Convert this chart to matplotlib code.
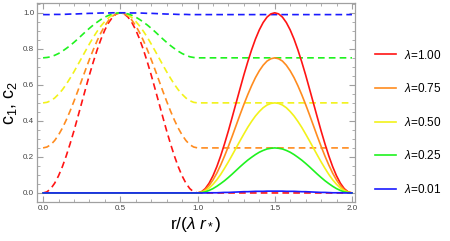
import matplotlib
matplotlib.use("Agg")
import matplotlib.pyplot as plt
from matplotlib.ticker import MultipleLocator

plt.rcParams["font.family"] = ["Liberation Sans", "DejaVu Sans"]
plt.rcParams["mathtext.fontset"] = "custom"
plt.rcParams["mathtext.rm"] = "Liberation Sans"
plt.rcParams["mathtext.it"] = "Liberation Sans:italic"

# sampled radii on one unit interval (step 0.025)
r_unit = [0.000, 0.025, 0.050, 0.075, 0.100, 0.125, 0.150, 0.175, 0.200, 0.225,
          0.250, 0.275, 0.300, 0.325, 0.350, 0.375, 0.400, 0.425, 0.450, 0.475,
          0.500, 0.525, 0.550, 0.575, 0.600, 0.625, 0.650, 0.675, 0.700, 0.725,
          0.750, 0.775, 0.800, 0.825, 0.850, 0.875, 0.900, 0.925, 0.950, 0.975, 1.000]

lambdas = ["1.00", "0.75", "0.50", "0.25", "0.01"]
colors = ["#ff1414", "#ff8c1f", "#f2f21a", "#1ff21f", "#1a1aff"]

# c1 (dashed) on 0 <= r <= 1, flat afterwards
c1_100 = [0.000, 0.006, 0.024, 0.054, 0.095, 0.146, 0.206, 0.273, 0.345, 0.422,
          0.500, 0.578, 0.655, 0.727, 0.794, 0.854, 0.905, 0.946, 0.976, 0.994,
          1.000, 0.994, 0.976, 0.946, 0.905, 0.854, 0.794, 0.727, 0.655, 0.578,
          0.500, 0.422, 0.345, 0.273, 0.206, 0.146, 0.095, 0.054, 0.024, 0.006, 0.000]
c1_075 = [0.250, 0.255, 0.268, 0.291, 0.322, 0.360, 0.405, 0.455, 0.509, 0.566,
          0.625, 0.684, 0.741, 0.795, 0.845, 0.890, 0.928, 0.959, 0.982, 0.995,
          1.000, 0.995, 0.982, 0.959, 0.928, 0.890, 0.845, 0.795, 0.741, 0.684,
          0.625, 0.566, 0.509, 0.455, 0.405, 0.360, 0.322, 0.291, 0.268, 0.255, 0.250]
c1_050 = [0.500, 0.503, 0.512, 0.527, 0.548, 0.573, 0.603, 0.637, 0.673, 0.711,
          0.750, 0.789, 0.827, 0.864, 0.897, 0.927, 0.952, 0.973, 0.988, 0.997,
          1.000, 0.997, 0.988, 0.973, 0.952, 0.927, 0.897, 0.864, 0.827, 0.789,
          0.750, 0.711, 0.673, 0.637, 0.603, 0.573, 0.548, 0.527, 0.512, 0.503, 0.500]
c1_025 = [0.750, 0.752, 0.756, 0.764, 0.774, 0.787, 0.802, 0.818, 0.836, 0.855,
          0.875, 0.895, 0.914, 0.932, 0.948, 0.963, 0.976, 0.986, 0.994, 0.998,
          1.000, 0.998, 0.994, 0.986, 0.976, 0.963, 0.948, 0.932, 0.914, 0.895,
          0.875, 0.855, 0.836, 0.818, 0.802, 0.787, 0.774, 0.764, 0.756, 0.752, 0.750]
c1_001 = [0.990, 0.990, 0.990, 0.991, 0.991, 0.991, 0.992, 0.993, 0.993, 0.994,
          0.995, 0.996, 0.997, 0.997, 0.998, 0.999, 0.999, 0.999, 1.000, 1.000,
          1.000, 1.000, 1.000, 0.999, 0.999, 0.999, 0.998, 0.997, 0.997, 0.996,
          0.995, 0.994, 0.993, 0.993, 0.992, 0.991, 0.991, 0.991, 0.990, 0.990, 0.990]

# c2 (solid) zero up to r = 1, bump on 1 <= r <= 2
c2_100 = [0.000, 0.006, 0.024, 0.054, 0.095, 0.146, 0.206, 0.273, 0.345, 0.422,
          0.500, 0.578, 0.655, 0.727, 0.794, 0.854, 0.905, 0.946, 0.976, 0.994,
          1.000, 0.994, 0.976, 0.946, 0.905, 0.854, 0.794, 0.727, 0.655, 0.578,
          0.500, 0.422, 0.345, 0.273, 0.206, 0.146, 0.095, 0.054, 0.024, 0.006, 0.000]
c2_075 = [0.000, 0.005, 0.018, 0.041, 0.072, 0.110, 0.155, 0.205, 0.259, 0.316,
          0.375, 0.434, 0.491, 0.545, 0.595, 0.640, 0.678, 0.709, 0.732, 0.745,
          0.750, 0.745, 0.732, 0.709, 0.678, 0.640, 0.595, 0.545, 0.491, 0.434,
          0.375, 0.316, 0.259, 0.205, 0.155, 0.110, 0.072, 0.041, 0.018, 0.005, 0.000]
c2_050 = [0.000, 0.003, 0.012, 0.027, 0.048, 0.073, 0.103, 0.137, 0.173, 0.211,
          0.250, 0.289, 0.327, 0.364, 0.397, 0.427, 0.452, 0.473, 0.488, 0.497,
          0.500, 0.497, 0.488, 0.473, 0.452, 0.427, 0.397, 0.364, 0.327, 0.289,
          0.250, 0.211, 0.173, 0.137, 0.103, 0.073, 0.048, 0.027, 0.012, 0.003, 0.000]
c2_025 = [0.000, 0.002, 0.006, 0.014, 0.024, 0.037, 0.052, 0.068, 0.086, 0.105,
          0.125, 0.145, 0.164, 0.182, 0.198, 0.213, 0.226, 0.236, 0.244, 0.248,
          0.250, 0.248, 0.244, 0.236, 0.226, 0.213, 0.198, 0.182, 0.164, 0.145,
          0.125, 0.105, 0.086, 0.068, 0.052, 0.037, 0.024, 0.014, 0.006, 0.002, 0.000]
c2_001 = [0.000, 0.000, 0.000, 0.001, 0.001, 0.001, 0.002, 0.003, 0.003, 0.004,
          0.005, 0.006, 0.007, 0.007, 0.008, 0.009, 0.009, 0.009, 0.010, 0.010,
          0.010, 0.010, 0.010, 0.009, 0.009, 0.009, 0.008, 0.007, 0.007, 0.006,
          0.005, 0.004, 0.003, 0.003, 0.002, 0.001, 0.001, 0.001, 0.000, 0.000, 0.000]

c1_all = [c1_100, c1_075, c1_050, c1_025, c1_001]
c2_all = [c2_100, c2_075, c2_050, c2_025, c2_001]

fig = plt.figure(figsize=(4.5, 2.41), dpi=100)
ax = fig.add_axes([0.082, 0.162, 0.707, 0.826])

frame = "#a0a0a0"
for c1, col in zip(c1_all, colors):
    xs = r_unit + [2.0]
    ys = c1 + [c1[-1]]
    ax.plot(xs, ys, color=col, lw=1.2, ls=(0, (4, 2.5)))

for c2, col, lam in zip(c2_all, colors, lambdas):
    xs = [0.0] + [1 + r for r in r_unit]
    ys = [0.0] + c2
    ax.plot(xs, ys, color=col, lw=1.2, label=r"$\lambda$=" + lam)

ax.set_xlim(-0.04, 2.02)
ax.set_ylim(-0.05, 1.055)
ax.xaxis.set_major_locator(MultipleLocator(0.5))
ax.xaxis.set_minor_locator(MultipleLocator(0.1))
ax.yaxis.set_major_locator(MultipleLocator(0.2))
ax.yaxis.set_minor_locator(MultipleLocator(0.05))
ax.xaxis.set_major_formatter(plt.FormatStrFormatter("%.1f"))
ax.yaxis.set_major_formatter(plt.FormatStrFormatter("%.1f"))
ax.tick_params(which="both", direction="in", top=True, right=True,
               color=frame, labelsize=5.8, labelcolor="#444444", pad=2)
ax.tick_params(which="major", length=4, width=0.8)
ax.tick_params(which="minor", length=2, width=0.6)
for s in ax.spines.values():
    s.set_color(frame)
    s.set_linewidth(0.9)

ax.set_xlabel(r"r/($\lambda\ r_*$)", fontsize=12.5, labelpad=2)
ax.set_ylabel(r"c$_1$, c$_2$", fontsize=13, labelpad=3)

ax.legend(loc="center left", bbox_to_anchor=(1.03, 0.40), frameon=False,
          fontsize=8.5, labelspacing=1.75, handlelength=1.8, handletextpad=0.6)

fig.savefig("out.png", dpi=100)
